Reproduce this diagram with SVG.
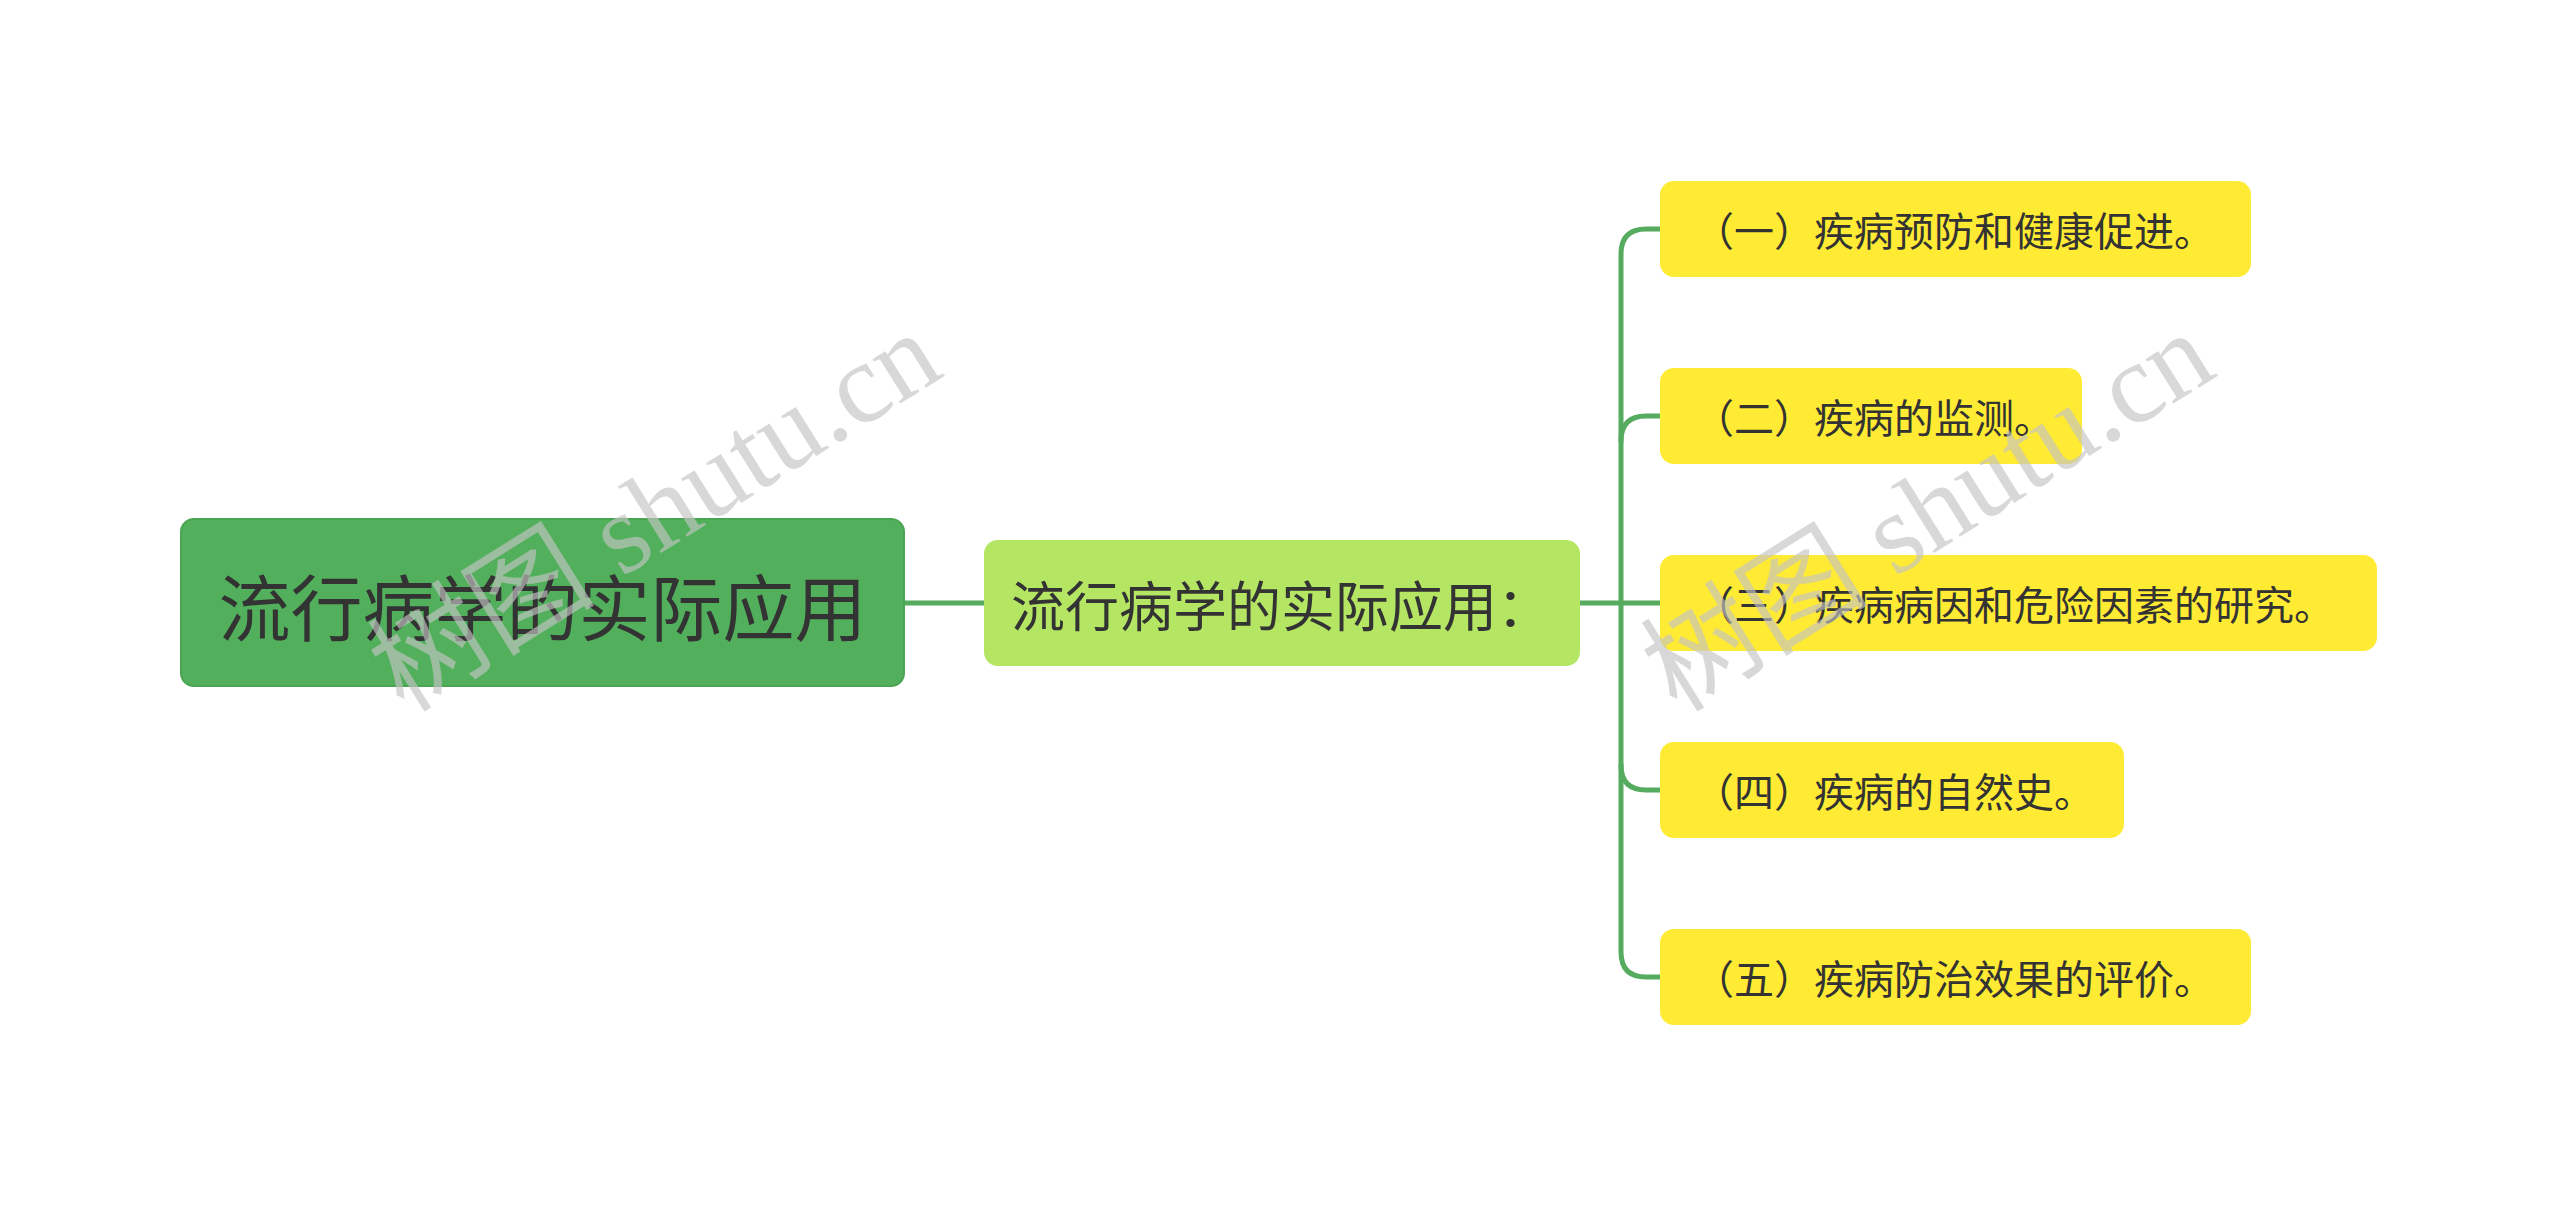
<svg xmlns="http://www.w3.org/2000/svg" width="2560" height="1207" viewBox="0 0 2560 1207">
<style>
.t{font-family:"Noto Sans CJK SC","Noto Sans",sans-serif;fill:#333333;dominant-baseline:central}
.leaf rect{fill:#ffeb33}
.leaf text{font-size:40px}
.conn{fill:none;stroke:#55ab5e;stroke-width:5;stroke-linecap:round}
.wm{font-family:"Liberation Serif","Noto Sans CJK SC",serif;font-size:114px;fill:#c4c4c4;opacity:0.65}
</style>
<rect x="0" y="0" width="2560" height="1207" fill="#ffffff"/>
<g id="connectors">
<path class="conn" d="M904 603 H984"/>
<path class="conn" d="M1580 603 H1660"/>
<path class="conn" d="M1660 229 H1646 Q1621 229 1621 254 V952 Q1621 977 1646 977 H1660"/>
<path class="conn" d="M1660 416 H1646 Q1621 416 1621 441"/>
<path class="conn" d="M1660 790 H1646 Q1621 790 1621 765"/>
</g>
<g id="root">
<rect x="181" y="519" width="723" height="167" rx="13" fill="#52b05c" stroke="#4aa553" stroke-width="2"/>
<text class="t" x="542.5" y="603" text-anchor="middle" font-size="72">流行病学的实际应用</text>
</g>
<g id="sub">
<rect x="984" y="540" width="596" height="126" rx="14" fill="#b4e663"/>
<text class="t" x="1011" y="603" font-size="54">流行病学的实际应用：</text>
</g>
<g id="leaf1" class="leaf">
<rect x="1660" y="181" width="591" height="96" rx="14"/>
<text class="t" x="1694" y="229">（一）疾病预防和健康促进。</text>
</g>
<g id="leaf2" class="leaf">
<rect x="1660" y="368" width="422" height="96" rx="14"/>
<text class="t" x="1694" y="416">（二）疾病的监测。</text>
</g>
<g id="leaf3" class="leaf">
<rect x="1660" y="555" width="717" height="96" rx="14"/>
<text class="t" x="1694" y="603">（三）疾病病因和危险因素的研究。</text>
</g>
<g id="leaf4" class="leaf">
<rect x="1660" y="742" width="464" height="96" rx="14"/>
<text class="t" x="1694" y="790">（四）疾病的自然史。</text>
</g>
<g id="leaf5" class="leaf">
<rect x="1660" y="929" width="591" height="96" rx="14"/>
<text class="t" x="1694" y="977">（五）疾病防治效果的评价。</text>
</g>
<g id="watermarks">
<text class="wm" transform="translate(655 512) rotate(-32)" text-anchor="middle" dy="38">树图 shutu.cn</text>
<text class="wm" transform="translate(1928 512) rotate(-32)" text-anchor="middle" dy="38">树图 shutu.cn</text>
</g>
</svg>
